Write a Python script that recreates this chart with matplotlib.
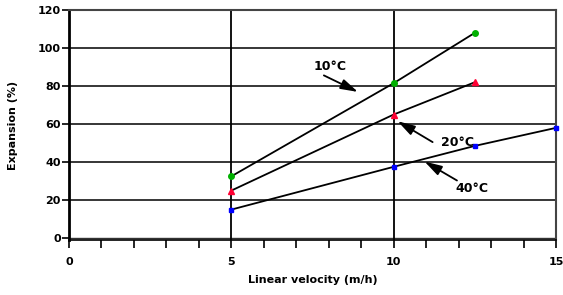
import matplotlib
matplotlib.use("Agg")
import matplotlib.pyplot as plt
from matplotlib.patches import FancyArrowPatch

x10 = [5, 10, 12.5]
y10 = [32.5, 81.5, 108]
x20 = [5, 10, 12.5]
y20 = [25, 65, 82]
x40 = [5, 10, 12.5, 15]
y40 = [15, 37.5, 48.5, 58]
xticks = [0, 5, 10, 15]
yticks = [0, 20, 40, 60, 80, 100, 120]

plt.rcParams['font.family'] = ['DejaVu Sans']
plt.rcParams['font.weight'] = 'bold'

fig = plt.figure(figsize=(5.63, 2.95), dpi=100)
ax = fig.add_axes([69/563, 1-240/295, (556-69)/563, (240-10)/295])
ax.set_xlim(0, 15)
ax.set_ylim(-1, 120)

for y in yticks[1:]:
    ax.axhline(y, color='black', lw=1.1, zorder=1)
ax.axhline(0, color='#333333', lw=1.0, zorder=1)
for x in [5, 10]:
    ax.axvline(x, color='black', lw=1.3, zorder=1)

ax.plot(x10, y10, color='black', lw=1.3, zorder=2)
ax.plot(x20, y20, color='black', lw=1.3, zorder=2)
ax.plot(x40, y40, color='black', lw=1.3, zorder=2)
ax.plot(x10, y10, 'o', color='#00b000', ms=4, zorder=3, clip_on=False)
ax.plot(x20, y20, '^', color='#ff0033', ms=5, zorder=3, clip_on=False)
ax.plot(x40, y40, 's', color='#0000ff', ms=3.5, zorder=3, clip_on=False)

ax.set_xticks(xticks)
ax.set_xticks(range(0, 16), minor=True)
ax.set_yticks(yticks)
ax.tick_params(axis='x', which='both', direction='out', length=6, width=1.2, pad=6, labelsize=8)
ax.tick_params(axis='y', direction='out', length=5, width=1.2, pad=1, labelsize=8)
for lab in ax.get_xticklabels() + ax.get_yticklabels():
    lab.set_fontweight('bold')

ax.spines['left'].set_linewidth(2.0)
ax.spines['bottom'].set_linewidth(1.2)
ax.spines['top'].set_linewidth(1.5)
ax.spines['top'].set_color('#444444')
ax.spines['right'].set_linewidth(1.5)
ax.spines['right'].set_color('#444444')

ax.set_xlabel('Linear velocity (m/h)', fontsize=8, fontweight='bold', labelpad=6)
ax.set_ylabel('Expansion (%)', fontsize=8, fontweight='bold', labelpad=14)

def arr(tail, head):
    p = FancyArrowPatch(tail, head, arrowstyle='-|>,head_length=0.75,head_width=0.22',
                        color='black', lw=1.3, mutation_scale=14,
                        shrinkA=0, shrinkB=0, zorder=4)
    ax.add_patch(p)

arr((7.85, 85.6), (8.9, 76.9))
ax.text(8.05, 90.5, '10°C', fontsize=9, fontweight='bold', ha='center', va='center')
arr((11.2, 50.5), (10.12, 61.5))
ax.text(11.97, 50.4, '20°C', fontsize=9, fontweight='bold', ha='center', va='center')
arr((11.95, 30.3), (10.95, 40.3))
ax.text(12.4, 26.3, '40°C', fontsize=9, fontweight='bold', ha='center', va='center')

fig.savefig('out.png', dpi=100)
